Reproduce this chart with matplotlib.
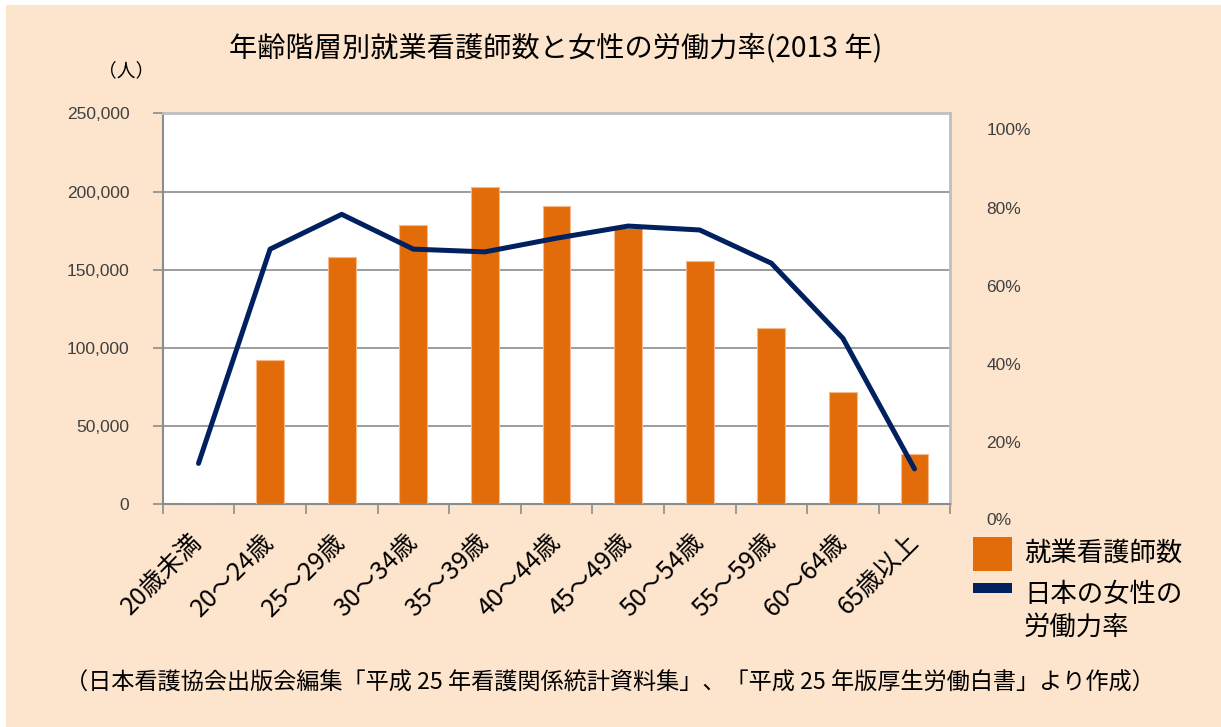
import matplotlib
matplotlib.use('Agg')
import matplotlib.pyplot as plt
import matplotlib.transforms as mtransforms
from matplotlib.patches import Rectangle
import numpy as np

# data
categories = ['20歳未満', '20〜24歳', '25〜29歳', '30〜34歳', '35〜39歳', '40〜44歳',
              '45〜49歳', '50〜54歳', '55〜59歳', '60〜64歳', '65歳以上']
nurses = [0, 92000, 158300, 178800, 203000, 190700, 176500, 155800, 112500, 71600, 32000]
labor_rate = [14.6, 69.4, 78.3, 69.4, 68.7, 72.2, 75.3, 74.3, 65.8, 46.6, 13.2]
left_ticks = [0, 50000, 100000, 150000, 200000, 250000]
right_ticks = [20, 40, 60, 80, 100]

title = '年齢階層別就業看護師数と女性の労働力率(2013 年)'
footer = '（日本看護協会出版会編集「平成 25 年看護関係統計資料集」、「平成 25 年版厚生労働白書」より作成）'

BG = '#FDE4CC'
ORANGE = '#E36C0A'
NAVY = '#002060'
GRID = '#8C8C8C'
TXT = '#404040'
CJK = ['Noto Sans CJK JP', 'DejaVu Sans']
plt.rcParams['font.family'] = ['Liberation Sans', 'Noto Sans CJK JP', 'DejaVu Sans']

W, H = 1221, 727
fx = lambda px: px / W
fy = lambda py: 1 - py / H

fig = plt.figure(figsize=(W / 100, H / 100), dpi=100, facecolor='white')
fig.patches.append(Rectangle((fx(6), 0), 1 - fx(6), 1 - 5 / H, transform=fig.transFigure,
                             facecolor=BG, edgecolor='none', zorder=-10))

ax = fig.add_axes([fx(162.7), fy(504.3), 787.6 / W, 391 / H])
ax.set_facecolor('white')
x = np.arange(len(categories))
ax.bar(x, nurses, width=0.39, color=ORANGE, edgecolor='#F6B889', linewidth=0.8, zorder=3)
ax.set_xlim(-0.5, len(categories) - 0.5)
ax.set_ylim(0, 250000)
ax.set_yticks(left_ticks)
ax.set_yticklabels([f'{v:,}' for v in left_ticks])
ax.yaxis.grid(True, color=GRID, linewidth=1.2)
ax.set_axisbelow(True)
for s in ['left', 'bottom']:
    ax.spines[s].set_color(GRID)
    ax.spines[s].set_linewidth(1.5)
for s in ['top', 'right']:
    ax.spines[s].set_color('#BFBFBF')
    ax.spines[s].set_linewidth(2)
ax.tick_params(axis='y', length=7, width=1.2, color=GRID, pad=17, labelsize=12.5, labelcolor=TXT)

ax.set_xticks(x)
ax.set_xticklabels(categories, rotation=45, ha='right', va='center', rotation_mode='anchor',
                   fontsize=18, family=CJK, color='black')
ax.tick_params(axis='x', which='major', length=0, pad=24)
ax.set_xticks(np.arange(-0.5, len(categories), 1), minor=True)
ax.tick_params(axis='x', which='minor', length=7, width=1.2, color=GRID)

ax2 = ax.twinx()
ax2.set_ylim(4.14, 104.14)
ax2.plot(x, labor_rate, color=NAVY, lw=3.6, solid_capstyle='round', solid_joinstyle='round', zorder=4)
ax2.set_yticks(right_ticks)
ax2.set_yticklabels([f'{v}%' for v in right_ticks])
ax2.tick_params(axis='y', length=0, pad=26, labelsize=12.5, labelcolor=TXT)
for s in ax2.spines.values():
    s.set_visible(False)
ax2.text((986.4 - 162.7) / 787.6, 0, '0%',
         transform=mtransforms.blended_transform_factory(ax2.transAxes, ax2.transData),
         ha='left', va='center', fontsize=12.5, color=TXT)

# legend
fig.patches.append(Rectangle((fx(973), fy(571)), 39 / W, 34 / H, transform=fig.transFigure,
                             facecolor=ORANGE, edgecolor='none'))
fig.patches.append(Rectangle((fx(973), fy(593)), 39 / W, 10 / H, transform=fig.transFigure,
                             facecolor=NAVY, edgecolor='none'))
fig.text(fx(1024), fy(553), '就業看護師数', va='center', ha='left', fontsize=19, family=CJK)
fig.text(fx(1024), fy(594), '日本の女性の', va='center', ha='left', fontsize=19, family=CJK)
fig.text(fx(1024), fy(627), '労働力率', va='center', ha='left', fontsize=19, family=CJK)

fig.text(fx(556), fy(48), title, ha='center', va='center', fontsize=20.3, family=CJK)
fig.text(fx(126), fy(71), '（人）', ha='center', va='center', fontsize=13.5, family=CJK)
fig.text(fx(610), fy(683), footer, ha='center', va='center', fontsize=16.7, family=CJK)

fig.savefig('out.png', dpi=100)
